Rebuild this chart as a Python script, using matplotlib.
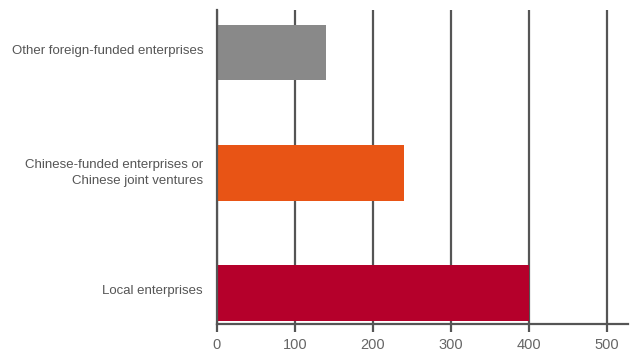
import matplotlib
import matplotlib.pyplot as plt
from matplotlib.transforms import ScaledTranslation

matplotlib.rcParams['font.family'] = ['Liberation Sans', 'DejaVu Sans']

categories = ['Other foreign-funded enterprises',
              'Chinese-funded enterprises or\nChinese joint ventures',
              'Local enterprises']
values = [140, 240, 400]
colors = ['#898989', '#E85415', '#B5002B']
x_ticks = [0, 100, 200, 300, 400, 500]

LINE = '#555555'

fig = plt.figure(figsize=(6.38, 3.54), dpi=100)
ax = fig.add_axes([0.340, 0.085, 0.644, 0.887])

pos = list(range(len(categories)))
ax.barh(pos, values, height=0.46, color=colors, zorder=2)

ax.set_xlim(0, 526.5)
ax.set_ylim(2.258, -0.358)
ax.set_xticks(x_ticks)
ax.set_xticklabels([str(t) for t in x_ticks], fontsize=10.5, color='#666666')
ax.set_yticks(pos)
ax.set_yticklabels(categories, fontsize=9.5, color='#555555', linespacing=1.4)

ax.grid(axis='x', color=LINE, linewidth=1.6, zorder=1)
ax.set_axisbelow(True)
ax.tick_params(axis='x', length=6, width=1.6, color=LINE, pad=4)
ax.tick_params(axis='y', length=0, pad=10)

# nudge the category labels up a little (after tick_params, which resets transforms)
lift = ScaledTranslation(0, 0.035, fig.dpi_scale_trans)
for lbl in ax.get_yticklabels():
    lbl.set_horizontalalignment('right')
    lbl.set_multialignment('right')
    lbl.set_transform(lbl.get_transform() + lift)

for side in ['top', 'right']:
    ax.spines[side].set_visible(False)
ax.spines['left'].set_color(LINE)
ax.spines['left'].set_linewidth(1.6)
ax.spines['left'].set_zorder(3)
ax.spines['bottom'].set_color(LINE)
ax.spines['bottom'].set_linewidth(1.6)

fig.savefig('out.png', dpi=100)
